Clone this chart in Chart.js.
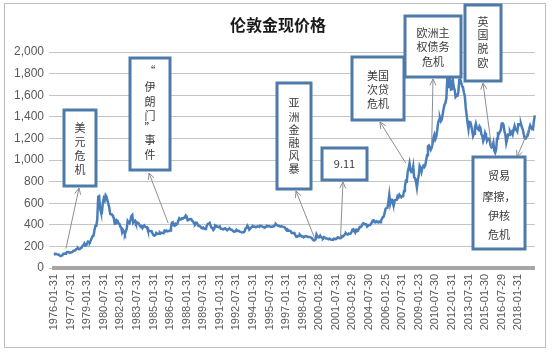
<!DOCTYPE html>
<html><head><meta charset="utf-8">
<script src="https://cdn.jsdelivr.net/npm/chart.js@4/dist/chart.umd.min.js"></script>
<style>html,body{margin:0;padding:0;background:#fff}#wrap{width:554px;height:352px;position:relative}</style>
</head><body><div id="wrap"><canvas id="c" width="554" height="352"></canvas></div>
<script>
// Monthly London gold price (USD/oz), Jan 1976 - Jul 2019
const prices1970s = [
128,131,132,128,126,125,117,110,114,117,131,134,
132,136,148,149,147,141,144,145,149,159,161,161,
173,178,184,175,176,183,188,206,212,227,206,208,
227,245,242,239,257,277,295,301,355,392,392,455];
const prices1980s = [
660,665,553,517,513,600,644,627,674,661,623,595,
557,500,498,495,480,461,409,411,443,437,413,410,
384,374,330,350,334,315,339,364,435,422,414,444,
481,491,420,432,438,413,423,416,412,394,382,388,
370,386,394,381,377,378,348,348,341,340,341,320,
303,299,304,325,316,317,317,330,323,326,325,322,
345,339,346,340,342,343,348,376,418,423,396,391,
408,401,409,438,460,450,451,461,460,465,467,486,
477,442,444,452,451,452,437,432,413,406,419,419,
404,388,390,384,371,367,375,365,362,367,394,409];
const prices1990s = [
410,417,393,374,369,352,362,395,389,381,382,378,
384,364,363,358,357,367,368,357,349,359,361,362,
354,354,344,338,337,340,353,343,345,344,335,334,
329,330,330,342,367,372,392,379,355,365,374,383,
387,382,384,377,381,386,385,380,391,389,384,379,
379,377,382,391,385,387,386,383,383,383,386,387,
400,405,396,393,392,385,383,387,383,381,378,369,
355,346,352,344,344,341,324,324,323,325,306,289,
289,297,296,308,299,292,293,284,289,296,294,291,
287,288,286,282,277,262,256,257,265,311,293,284];
const prices2000s = [
285,300,286,280,275,286,282,275,274,270,266,272,
266,262,263,261,272,270,268,273,284,283,276,276,
282,296,294,303,314,322,314,310,319,317,319,333,
357,359,340,328,355,356,351,360,379,379,389,407,
414,405,406,404,384,392,398,400,406,420,439,442,
424,423,434,429,422,430,424,437,456,470,476,510,
549,555,557,610,676,596,633,632,598,585,627,629,
631,665,655,679,667,655,665,665,712,754,806,803,
889,922,968,909,888,889,939,839,829,800,745,816,
858,943,924,890,928,945,934,949,996,1043,1127,1134];
const prices2010s = [
1118,1095,1113,1148,1205,1232,1193,1215,1271,1343,1370,1391,
1360,1374,1424,1474,1512,1529,1572,1756,1771,1665,1739,1652,
1656,1743,1674,1650,1585,1596,1594,1630,1744,1747,1722,1685,
1671,1627,1593,1487,1414,1343,1286,1352,1349,1316,1275,1222,
1244,1300,1336,1299,1287,1279,1311,1296,1239,1222,1176,1201,
1251,1227,1179,1198,1199,1181,1131,1117,1125,1159,1086,1068,
1097,1200,1246,1242,1260,1276,1337,1340,1326,1267,1238,1157,
1192,1234,1231,1266,1246,1260,1237,1283,1315,1280,1282,1265,
1331,1331,1325,1334,1303,1282,1238,1202,1198,1215,1220,1250,
1291,1320,1300,1286,1284,1359,1413];

const tickLabels = ['1976-01-31','1977-07-31','1979-01-31','1980-07-31','1982-01-31','1983-07-31',
'1985-01-31','1986-07-31','1988-01-31','1989-07-31','1991-01-31','1992-07-31','1994-01-31',
'1995-07-31','1997-01-31','1998-07-31','2000-01-28','2001-07-31','2003-01-29','2004-07-30',
'2006-01-25','2007-07-31','2009-01-23','2010-07-30','2012-01-31','2013-07-31','2015-01-30',
'2016-07-29','2018-01-31'];
const tickEvery = 18;

const prices = [].concat(prices1970s, prices1980s, prices1990s, prices2000s, prices2010s);
const categories = prices.map((_, i) => {
  const y = 1976 + Math.floor(i / 12), m = (i % 12) + 1;
  return y + '-' + String(m).padStart(2, '0');
});

// annotation boxes: text rows, box rect, arrow (tip at box, tail anchored on data via index/value)
const notes = [
  {rows:['美','元','危','机'], box:[64,110,96,186], rowY:[128,142,156,170], tip:[79,188], tail:{i:13, v:180}},
  {rows:['“','伊','朗','门','”','事','件'], box:[130,58,170,170], rowY:[71,87,102,116,128,140,155], tip:[149,173], tail:{i:124, v:415}},
  {rows:['亚','洲','金','融','风','暴'], box:[277,83,311,189], rowY:[103,117,130,143,156,169], tip:[296,191], tail:{i:283, v:275}},
  {rows:['9.11'], box:[322,148,367,180], rowY:[164], tip:[343,182], tail:{i:311, v:275}},
  {rows:['美国','次贷','危机'], box:[352,57,404,120], rowY:[76,90,104], tip:[380,122], tail:{i:382, v:970}},
  {rows:['欧洲主','权债务','危机'], box:[405,16,461,77], rowY:[33,47,62], tip:[433,79], tail:{i:410, v:1120}},
  {rows:['英','国','脱','欧'], box:[465,5,501,81], rowY:[22,35,49,63], tip:[483,83], tail:{i:475, v:1120}},
  {rows:['贸易','摩擦，','伊核','危机'], box:[473,157,525,249], rowY:[176,197,216,235], tip:[517,157], tail:{i:516, v:1295}}
];

const deco = {
  id:'deco',
  beforeDraw(chart){
    const ctx = chart.ctx;
    ctx.save();
    ctx.fillStyle = '#fff';
    ctx.fillRect(0,0,chart.width,chart.height);
    ctx.strokeStyle = '#bdbdbd'; ctx.lineWidth = 1;
    ctx.strokeRect(4.5,3.5,541,344);
    ctx.fillStyle = '#1a1a1a';
    ctx.font = 'bold 16px "Noto Sans CJK SC"';
    ctx.textAlign = 'center'; ctx.textBaseline = 'middle';
    ctx.fillText('伦敦金现价格', 278, 25);
    ctx.restore();
  },
  afterDatasetsDraw(chart){
    const ctx = chart.ctx, xs = chart.scales.x, ys = chart.scales.y;
    ctx.save();
    notes.forEach(n => {
      const tx = xs.getPixelForValue(n.tail.i), ty = ys.getPixelForValue(n.tail.v);
      const [hx, hy] = n.tip;
      ctx.strokeStyle = '#8a8f96'; ctx.lineWidth = 1;
      ctx.beginPath(); ctx.moveTo(tx, ty); ctx.lineTo(hx, hy); ctx.stroke();
      const a = Math.atan2(hy - ty, hx - tx), L = 7, w = 0.45;
      ctx.beginPath();
      ctx.moveTo(hx - L*Math.cos(a - w), hy - L*Math.sin(a - w));
      ctx.lineTo(hx, hy);
      ctx.lineTo(hx - L*Math.cos(a + w), hy - L*Math.sin(a + w));
      ctx.stroke();
      const [x1,y1,x2,y2] = n.box;
      ctx.fillStyle = '#fff';
      ctx.fillRect(x1,y1,x2-x1,y2-y1);
      ctx.strokeStyle = '#4d7aa8'; ctx.lineWidth = 3;
      ctx.strokeRect(x1,y1,x2-x1,y2-y1);
      ctx.fillStyle = '#3a3a3a';
      ctx.font = '11px "Noto Sans CJK SC"';
      ctx.textAlign = 'center'; ctx.textBaseline = 'middle';
      n.rows.forEach((r, k) => ctx.fillText(r, (x1+x2)/2, n.rowY[k]));
    });
    ctx.restore();
  }
};

new Chart(document.getElementById('c'), {
  type:'line',
  data:{ labels: categories, datasets:[{ data: prices, borderColor:'#4a7ebb', borderWidth:2.5, pointRadius:0, tension:0, fill:false }] },
  options:{
    responsive:false, animation:false, devicePixelRatio:1,
    layout:{ padding:{ left:0, right:19, top:52, bottom:0 } },
    plugins:{ legend:{display:false}, title:{display:false}, tooltip:{enabled:false} },
    scales:{
      x:{
        offset:false,
        grid:{ display:false, drawTicks:false },
        border:{ display:true, color:'#a6a6a6', width:4 },
        ticks:{ autoSkip:false, minRotation:90, maxRotation:90, padding:6, color:'#595959',
          font:{ family:'"Liberation Sans"', size:11 },
          callback:(v, i) => (i % tickEvery === 0 && tickLabels[i / tickEvery]) ? tickLabels[i / tickEvery] : '' },
        afterFit(s){ s.height = 84; }
      },
      y:{
        min:0, max:2000,
        ticks:{ stepSize:200, color:'#595959', padding:5, font:{ family:'"Liberation Sans"', size:12 } },
        grid:{ color:'#c4c4c4', lineWidth:1, tickLength:5, drawTicks:true },
        border:{ display:false },
        afterFit(s){ s.width = 54; }
      }
    }
  },
  plugins:[deco]
});
</script></body></html>
